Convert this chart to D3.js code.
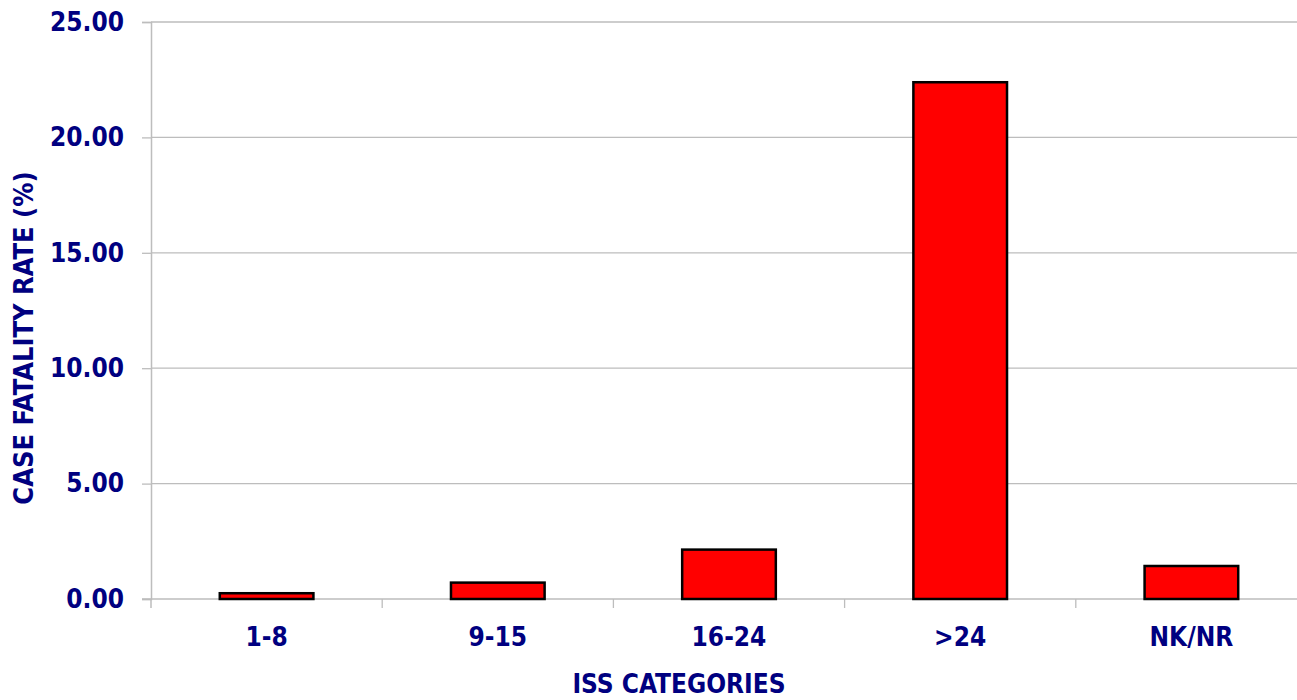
<!DOCTYPE html>
<html>
<head>
<meta charset="utf-8">
<script src="https://cdn.jsdelivr.net/npm/d3@7"></script>
<style>
  html, body { margin: 0; padding: 0; background: #fff; }
  svg { display: block; }
  text { font-family: "DejaVu Sans Condensed", "DejaVu Sans", sans-serif; font-weight: bold; fill: #000080; }
</style>
</head>
<body>
<script>
// ISS category case fatality rates
const categories = ["1-8", "9-15", "16-24", ">24", "NK/NR"];
const fatalityRate = [0.25, 0.71, 2.14, 22.39, 1.43];
const yTicks = [0, 5, 10, 15, 20, 25];

const W = 1297, H = 700;
const plot = { left: 151, right: 1307, top: 22, bottom: 599 };

const svg = d3.select("body").append("svg")
  .attr("width", W).attr("height", H);

const x = d3.scaleBand()
  .domain(categories)
  .range([plot.left, plot.right])
  .paddingInner(0.595)
  .paddingOuter(0.2975);

const xBand = d3.scaleBand().domain(categories).range([plot.left, plot.right]);

const y = d3.scaleLinear().domain([0, 25]).range([plot.bottom, plot.top]);

// horizontal gridlines
svg.append("g")
  .selectAll("line")
  .data(yTicks.filter(d => d > 0))
  .join("line")
  .attr("x1", plot.left).attr("x2", W)
  .attr("y1", d => y(d)).attr("y2", d => y(d))
  .attr("stroke", "#bdbdbd").attr("stroke-width", 1.3);

// y axis
const yAxis = svg.append("g")
  .attr("transform", `translate(${plot.left},0)`)
  .call(d3.axisLeft(y).tickValues(yTicks).tickFormat(d3.format(".2f")).tickSize(9).tickPadding(18));
yAxis.select(".domain").attr("stroke", "#bdbdbd").attr("stroke-width", 1.5);
yAxis.selectAll(".tick line").attr("stroke", "#bdbdbd").attr("stroke-width", 1.3);
yAxis.selectAll("text")
  .attr("font-size", 26)
  .attr("fill", "#000080")
  .style("font-family", "'DejaVu Sans Condensed', 'DejaVu Sans', sans-serif")
  .style("font-weight", "bold");

// x axis baseline with category separators
const xAxisG = svg.append("g").attr("transform", `translate(0,${plot.bottom})`);
xAxisG.append("line")
  .attr("x1", plot.left - 9).attr("x2", W)
  .attr("stroke", "#bdbdbd").attr("stroke-width", 1.5);
xAxisG.selectAll("line.sep")
  .data(categories.slice(1))
  .join("line")
  .attr("class", "sep")
  .attr("x1", d => xBand(d)).attr("x2", d => xBand(d))
  .attr("y1", 0).attr("y2", 9)
  .attr("stroke", "#bdbdbd").attr("stroke-width", 1.3);
xAxisG.append("line")
  .attr("x1", plot.left).attr("x2", plot.left).attr("y1", 0).attr("y2", 9)
  .attr("stroke", "#bdbdbd").attr("stroke-width", 1.5);
xAxisG.selectAll("text.cat")
  .data(categories)
  .join("text")
  .attr("class", "cat")
  .attr("x", d => xBand(d) + xBand.bandwidth() / 2)
  .attr("y", 47)
  .attr("text-anchor", "middle")
  .attr("font-size", 26)
  .text(d => d);

// bars
svg.append("g")
  .selectAll("rect")
  .data(categories.map((c, i) => ({ c, v: fatalityRate[i] })))
  .join("rect")
  .attr("x", d => x(d.c))
  .attr("width", x.bandwidth())
  .attr("y", d => y(d.v))
  .attr("height", d => y(0) - y(d.v))
  .attr("fill", "#ff0000")
  .attr("stroke", "#000")
  .attr("stroke-width", 2.5);

// axis titles
svg.append("text")
  .attr("x", 679).attr("y", 693)
  .attr("text-anchor", "middle")
  .attr("font-size", 26)
  .text("ISS CATEGORIES");

svg.append("text")
  .attr("transform", "translate(33,338) rotate(-90)")
  .attr("text-anchor", "middle")
  .attr("font-size", 27)
  .text("CASE FATALITY RATE (%)");
</script>
</body>
</html>
